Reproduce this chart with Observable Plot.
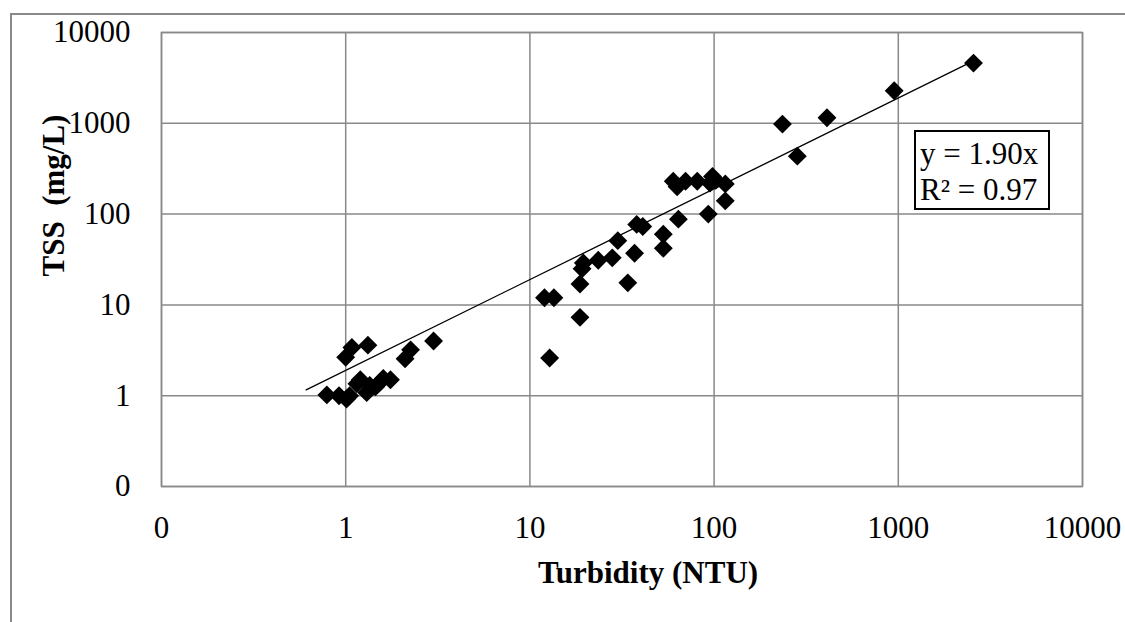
<!DOCTYPE html>
<html>
<head>
<meta charset="utf-8">
<script src="https://cdn.jsdelivr.net/npm/d3@7"></script>
<script src="https://cdn.jsdelivr.net/npm/@observablehq/plot@0.6"></script>
<style>
  html, body { margin: 0; padding: 0; background: #fff; }
  #wrap { position: relative; width: 1125px; height: 622px; overflow: hidden; }
  #outer { position: absolute; left: 10px; top: 13px; right: -5px; bottom: -5px;
           border-top: 2px solid #898989; border-left: 2px solid #898989; }
  #chart { position: absolute; left: 0; top: 0; }
  #eq { position: absolute; left: 914px; top: 130px; width: 128px; height: 72px;
        border: 2px solid #000; background: #fff; padding: 4px 0 0 4px;
        font-family: "Liberation Serif", "Times New Roman", serif; font-size: 31px;
        line-height: 36px; color: #000; white-space: nowrap; }
</style>
</head>
<body>
<div id="wrap">
  <div id="outer"></div>
  <div id="chart"></div>
  <div id="eq"></div>
</div>
<script>
// Data
const turbidity = [
  0.79, 0.92, 1.01, 1.05, 1.15, 1.2, 1.3, 1.35, 1.45, 1.53, 1.6, 1.75,
  1.0, 1.08, 1.32, 2.1, 2.25, 3.0,
  12, 13.5, 12.8, 18.7, 18.7, 19.2, 19.5, 23.5, 28, 30, 34, 37, 38, 41, 53, 53, 64, 93, 115,
  60, 63, 70, 81, 95, 98, 102, 115,
  235, 283, 410, 950, 2560
];
const tss = [
  1.02, 1.0, 0.92, 1.0, 1.35, 1.5, 1.08, 1.3, 1.25, 1.4, 1.55, 1.5,
  2.65, 3.4, 3.6, 2.55, 3.2, 4.0,
  12, 12, 2.6, 7.3, 17, 25, 29, 31, 33, 51, 17.5, 37, 77, 73, 60, 42, 88, 100, 140,
  230, 200, 230, 230, 220, 260, 235, 215,
  980, 435, 1150, 2280, 4600
];
const axisTicks = [0.1, 1, 10, 100, 1000, 10000];
const axisTickLabels = ["0", "1", "10", "100", "1000", "10000"];
const trendSlope = 1.90;
const trendRange = [0.61, 2560];
const equationLines = ["y = 1.90x", "R² = 0.97"];
const xTitle = "Turbidity (NTU)";
const yTitle = "TSS\u00a0 (mg/L)";

const points = turbidity.map((x, i) => ({x, y: tss[i]}));
const trend = trendRange.map(x => ({x, y: trendSlope * x}));
const labelOf = new Map(axisTicks.map((t, i) => [t, axisTickLabels[i]]));
const grey = "#898989";
const serif = "'Liberation Serif', 'Times New Roman', serif";

const chart = Plot.plot({
  width: 1125,
  height: 622,
  marginLeft: 161,
  marginRight: 43,
  marginTop: 32,
  marginBottom: 136,
  x: {type: "log", domain: [0.1, 10000]},
  y: {type: "log", domain: [0.1, 10000]},
  style: {
    fontFamily: serif,
    fontSize: "31px",
    color: "#000",
    background: "transparent",
    overflow: "visible"
  },
  marks: [
    Plot.gridX(axisTicks, {stroke: grey, strokeOpacity: 1, strokeWidth: 1.5}),
    Plot.gridY(axisTicks, {stroke: grey, strokeOpacity: 1, strokeWidth: 1.5}),
    Plot.frame({stroke: grey, strokeWidth: 1.5}),
    Plot.axisX(axisTicks, {tickSize: 0, tickPadding: 29, tickFormat: d => labelOf.get(d), label: null,
      fill: "#000", fontFamily: serif, fontSize: 31}),
    Plot.axisY(axisTicks, {tickSize: 0, tickPadding: 31, tickFormat: d => labelOf.get(d), label: null,
      fill: "#000", fontFamily: serif, fontSize: 31}),
    Plot.line(trend, {x: "x", y: "y", stroke: "#000", strokeWidth: 1.3}),
    Plot.dot(points, {x: "x", y: "y", symbol: "diamond2", r: 8.5, fill: "#000", stroke: "none"}),
    Plot.text([xTitle], {frameAnchor: "bottom", dy: 96, dx: 26, fontWeight: "bold", fontSize: 31,
      fontFamily: serif, fill: "#000"}),
    Plot.text([yTitle], {frameAnchor: "left", dx: -107, dy: 17, rotate: -90, fontWeight: "bold", fontSize: 31,
      fontFamily: serif, fill: "#000"})
  ]
});
document.getElementById("chart").appendChild(chart);
document.getElementById("eq").innerHTML = equationLines.join("<br>");
</script>
</body>
</html>
